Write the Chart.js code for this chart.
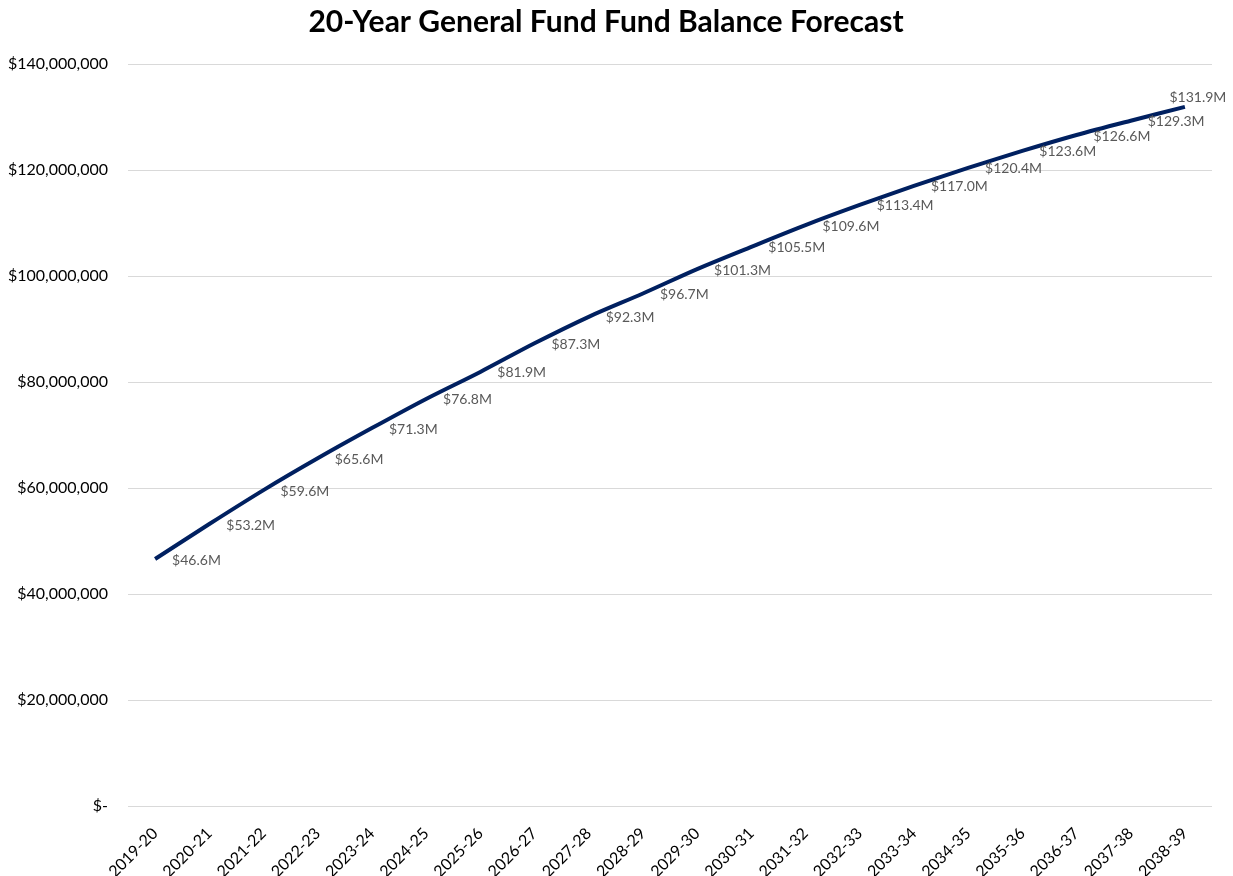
<!DOCTYPE html>
<html>
<head>
<meta charset="utf-8">
<script src="https://cdn.jsdelivr.net/npm/chart.js@4"></script>
<style>
  html, body { margin: 0; padding: 0; background: #fff; }
  #wrap { width: 1233px; height: 876px; }
</style>
</head>
<body>
<div id="wrap"><canvas id="lineChart"></canvas></div>
<script>
const years = ['2019-20', '2020-21', '2021-22', '2022-23', '2023-24', '2024-25', '2025-26',
  '2026-27', '2027-28', '2028-29', '2029-30', '2030-31', '2031-32', '2032-33', '2033-34',
  '2034-35', '2035-36', '2036-37', '2037-38', '2038-39'];
// fund balance in millions
const balance = [46.6, 53.2, 59.6, 65.6, 71.3, 76.8, 81.9, 87.3, 92.3, 96.7,
  101.3, 105.5, 109.6, 113.4, 117.0, 120.4, 123.6, 126.6, 129.3, 131.9];
const yTicks = [0, 20000000, 40000000, 60000000, 80000000, 100000000, 120000000, 140000000];

const FONT = 'Lato, "Open Sans", sans-serif';

// point labels drawn to the right of each point (last one above)
const pointLabels = {
  id: 'pointLabels',
  afterDatasetsDraw(chart) {
    const ctx = chart.ctx;
    const meta = chart.getDatasetMeta(0);
    ctx.save();
    ctx.font = '14px ' + FONT;
    ctx.fillStyle = '#595959';
    ctx.textBaseline = 'middle';
    meta.data.forEach(function(pt, i) {
      const txt = '$' + balance[i].toFixed(1) + 'M';
      if (i === meta.data.length - 1) {
        ctx.textAlign = 'center';
        ctx.fillText(txt, pt.x + 13, pt.y - 9);
      } else {
        ctx.textAlign = 'left';
        ctx.fillText(txt, pt.x + 17, pt.y + 1);
      }
    });
    ctx.restore();
  }
};

const ctx = document.getElementById('lineChart').getContext('2d');
new Chart(ctx, {
  type: 'line',
  data: {
    labels: years,
    datasets: [{
      label: 'Fund Balance',
      data: balance.map(v => v * 1000000),
      borderColor: '#002060',
      backgroundColor: '#002060',
      borderWidth: 4,
      pointRadius: 0,
      tension: 0.3,
      fill: false
    }]
  },
  options: {
    responsive: true,
    maintainAspectRatio: false,
    animation: false,
    layout: { padding: { left: 0, right: 21, top: 0, bottom: 0 } },
    scales: {
      x: {
        offset: true,
        grid: { display: false, drawTicks: false },
        border: { display: false },
        ticks: {
          color: '#000',
          font: { family: FONT, size: 16 },
          maxRotation: 45,
          minRotation: 45,
          autoSkip: false,
          padding: 18
        },
        afterFit(scale) { scale.height = 70; }
      },
      y: {
        min: 0,
        max: 140000000,
        afterBuildTicks(scale) { scale.ticks = yTicks.map(v => ({ value: v })); },
        grid: { color: '#d9d9d9', lineWidth: 1, drawTicks: false },
        border: { display: false },
        ticks: {
          color: '#000',
          font: { family: FONT, size: 16 },
          padding: 20,
          callback: function(v) {
            return v === 0 ? '$-' : '$' + v.toLocaleString('en-US');
          }
        },
        afterFit(scale) { scale.width = 128; }
      }
    },
    plugins: {
      legend: { display: false },
      tooltip: { enabled: false },
      title: {
        display: true,
        text: '20-Year General Fund Fund Balance Forecast',
        color: '#000',
        font: { family: FONT, size: 30, weight: 'bold' },
        padding: { top: 4, bottom: 24 }
      }
    }
  },
  plugins: [pointLabels]
});
</script>
</body>
</html>
